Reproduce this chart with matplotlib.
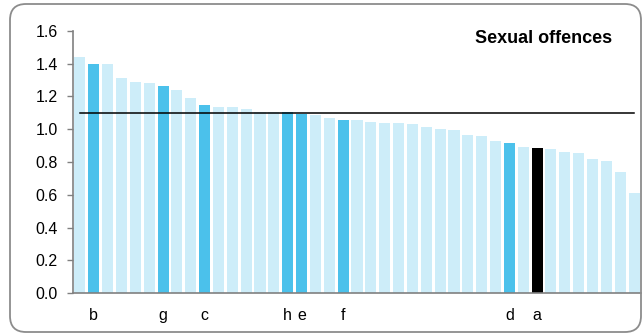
import matplotlib.pyplot as plt
import matplotlib.patches as mpatches
import numpy as np

plt.rcParams['font.family'] = ['Liberation Sans', 'DejaVu Sans']

# offence ratio per area, sorted high to low
values = [1.443, 1.398, 1.396, 1.313, 1.289, 1.282, 1.266, 1.240, 1.191, 1.148,
          1.136, 1.134, 1.126, 1.108, 1.106, 1.103, 1.093, 1.087, 1.067, 1.059,
          1.054, 1.044, 1.038, 1.036, 1.032, 1.016, 1.001, 0.995, 0.965, 0.959,
          0.926, 0.914, 0.892, 0.883, 0.877, 0.863, 0.855, 0.820, 0.804, 0.737,
          0.611]
# highlighted bars: index -> label
highlight = {1: 'b', 6: 'g', 9: 'c', 15: 'h', 16: 'e', 19: 'f', 31: 'd', 33: 'a'}
own_area = 'a'
average = 1.10
title = 'Sexual offences'

light = '#cdedf9'
mid = '#4bc1eb'

fig = plt.figure(figsize=(6.44, 3.35), dpi=100)
ax = fig.add_axes([73 / 644, 42 / 335, 568 / 644, 262 / 335])

x = np.arange(len(values))
colors = []
for i in x:
    if highlight.get(i) == own_area:
        colors.append('black')
    elif i in highlight:
        colors.append(mid)
    else:
        colors.append(light)
ax.bar(x, values, width=0.8, color=colors)

ax.plot([0, len(values) - 1], [average, average], color='black', lw=1.1)

ax.set_xlim(-0.5, len(values) - 0.5)
ax.set_ylim(0, 1.6)
ax.set_yticks(np.arange(0, 1.61, 0.2))
ax.set_yticklabels([f'{v:.1f}' for v in np.arange(0, 1.61, 0.2)], fontsize=11.5)
ax.set_xticks(list(highlight.keys()))
ax.set_xticklabels(list(highlight.values()), fontsize=11.5)
ax.tick_params(axis='x', length=0, pad=11)
ax.tick_params(axis='y', length=4, width=1, color='#808080', pad=7)

for s in ['top', 'right']:
    ax.spines[s].set_visible(False)
for s in ['left', 'bottom']:
    ax.spines[s].set_color('#808080')
    ax.spines[s].set_linewidth(1.2)

ax.text(0.949, 0.973, title, transform=ax.transAxes, ha='right', va='center',
        fontsize=13, fontweight='bold')

# rounded frame around the chart
frame = mpatches.FancyBboxPatch((10, 3), 631, 328,
                                boxstyle='round,pad=0,rounding_size=16',
                                fill=False, edgecolor='#8c8c8c', lw=1.3,
                                transform=None)
fig.add_artist(frame)

fig.savefig('out.png', dpi=100)
